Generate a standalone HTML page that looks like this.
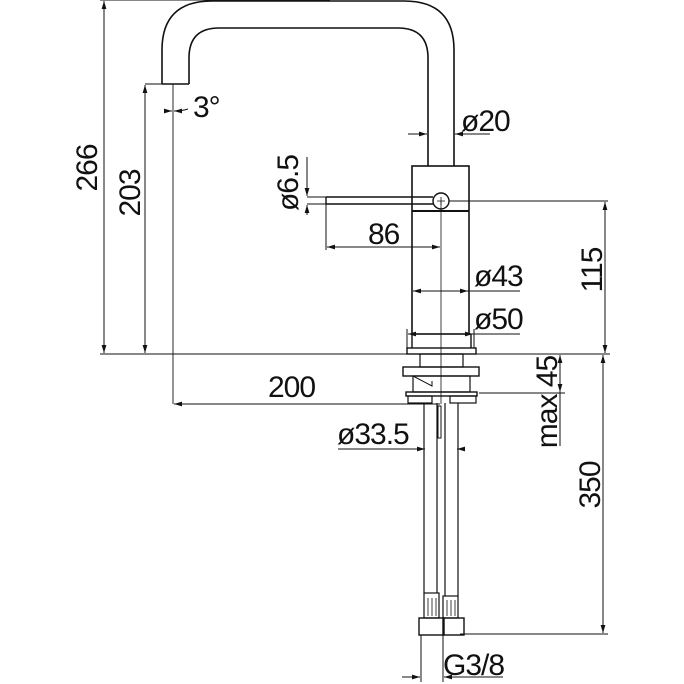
<!DOCTYPE html>
<html><head><style>
body{margin:0;background:#fff}
svg{display:block}
text{font-family:"Liberation Sans",sans-serif;font-size:30px;fill:#111;letter-spacing:-1px}
</style></head><body>
<svg width="684" height="684" viewBox="0 0 684 684" xmlns="http://www.w3.org/2000/svg">
<defs>
<marker id="a" viewBox="0 0 10 6" refX="10" refY="3" markerWidth="8" markerHeight="5" orient="auto-start-reverse"><path d="M0,0L10,3L0,6z" fill="#111"/></marker>
</defs>
<g stroke="#111" stroke-width="1" fill="none">
<path d="M162,84 L162,50 Q162,1 212,1 L404,1 Q454,1 454,50 L454,166" stroke-width="1.6"/>
<path d="M189,84 L189,58 Q189,28 219,28 L398,28 Q428,28 428,58 L428,166" stroke-width="1.6"/>
<path d="M162,84 L189,84" stroke-width="1.4"/>
<rect x="412" y="166" width="57" height="168" stroke-width="1.6"/>
<line x1="412" y1="211" x2="469" y2="211" stroke-width="2"/>
<path d="M326,197 L433,197 M326,204 L433,204 M326,197 L326,204" stroke-width="1.4"/>
<circle cx="441" cy="201" r="8" fill="#fff" stroke-width="1.4"/>
<path d="M437,201h8M441,197v8" stroke-width="0.8"/>
<path d="M412,334 L412,348 M471,334 L471,348" stroke-width="1.4"/>
<rect x="407" y="348" width="69" height="6" stroke-width="1.4"/>
<rect x="420" y="354" width="43" height="13" stroke-width="1.2"/>
<rect x="403" y="367" width="76" height="9" stroke-width="1.4"/>
<rect x="413" y="376" width="57" height="16" stroke-width="1.2"/>
<path d="M413,376 L432,386 L432,381" stroke-width="1"/>
<rect x="406" y="392" width="71" height="4" stroke-width="1.4"/>
<rect x="408" y="396" width="24" height="7" stroke-width="1.2"/>
<rect x="450" y="396" width="26" height="7" stroke-width="1.2"/>
<rect x="438" y="406" width="3" height="32" stroke-width="1"/>
<path d="M424,403V593M437,403V593M445,403V596M458,403V596" stroke-width="1.2"/>
<rect x="424" y="593" width="15" height="25" stroke-width="1.2"/>
<rect x="443" y="596" width="15" height="22" stroke-width="1.2"/>
<path d="M428,598v18M432,598v18M436,598v18M447,600v16M451,600v16M455,600v16" stroke-width="0.8"/>
<rect x="419" y="618" width="25" height="17" stroke-width="1.4"/>
<rect x="443" y="618" width="21" height="17" stroke-width="1.4"/>
<line x1="441" y1="201" x2="441" y2="404" stroke-width="0.8"/>
<line x1="173" y1="84" x2="173" y2="404" stroke-width="0.9"/>
<line x1="100" y1="354" x2="610" y2="354"/>
<line x1="100" y1="0" x2="330" y2="0"/>
<line x1="145" y1="84" x2="162" y2="84"/>
<line x1="449" y1="201" x2="608" y2="201"/>
<line x1="479" y1="393" x2="565" y2="393"/>
<line x1="460" y1="634" x2="608" y2="634"/>
<line x1="307" y1="197" x2="326" y2="197"/>
<line x1="307" y1="204" x2="326" y2="204"/>
<line x1="326" y1="204" x2="326" y2="250"/>
<line x1="104" y1="1" x2="104" y2="353" marker-start="url(#a)" marker-end="url(#a)"/>
<line x1="145" y1="85" x2="145" y2="353" marker-start="url(#a)" marker-end="url(#a)"/>
<line x1="605" y1="202" x2="605" y2="353" marker-start="url(#a)" marker-end="url(#a)"/>
<line x1="603" y1="355" x2="603" y2="633" marker-start="url(#a)" marker-end="url(#a)"/>
<line x1="560" y1="355" x2="560" y2="392" marker-start="url(#a)" marker-end="url(#a)"/>
<line x1="560" y1="392" x2="560" y2="446"/>
<line x1="327" y1="247" x2="440" y2="247" marker-start="url(#a)" marker-end="url(#a)"/>
<line x1="174" y1="404" x2="440" y2="404" marker-start="url(#a)"/>
<line x1="413" y1="291" x2="468" y2="291" marker-start="url(#a)" marker-end="url(#a)"/>
<line x1="468" y1="291" x2="520" y2="291"/>
<line x1="408" y1="334" x2="473" y2="334" marker-start="url(#a)" marker-end="url(#a)"/>
<line x1="473" y1="334" x2="520" y2="334"/>
<line x1="407" y1="329" x2="407" y2="348"/>
<line x1="474" y1="329" x2="474" y2="348"/>
<line x1="408" y1="134" x2="427" y2="134" marker-end="url(#a)"/>
<line x1="490" y1="134" x2="455" y2="134" marker-end="url(#a)"/>
<line x1="307" y1="157" x2="307" y2="196" marker-end="url(#a)"/>
<line x1="307" y1="215" x2="307" y2="205" marker-end="url(#a)"/>
<line x1="338" y1="449" x2="423" y2="449"/>
<line x1="464" y1="449" x2="457" y2="449" marker-end="url(#a)"/>
<line x1="418" y1="449" x2="425" y2="449" marker-end="url(#a)"/>
<path d="M424,403V452M458,403V452"/>
<path d="M421,635V682M443,635V682"/>
<line x1="402" y1="677" x2="420" y2="677" marker-end="url(#a)"/>
<line x1="503" y1="677" x2="444" y2="677" marker-end="url(#a)"/>
<line x1="164" y1="111" x2="172" y2="111" marker-end="url(#a)"/>
<path d="M188,109 Q182,111 174,111" marker-end="url(#a)"/>
</g>
<text x="193" y="117">3°</text>
<text x="461" y="131">ø20</text>
<text x="368" y="244">86</text>
<text x="474" y="286">ø43</text>
<text x="474" y="329">ø50</text>
<text x="268" y="397">200</text>
<text x="337" y="444">ø33.5</text>
<text x="443" y="675">G3/8</text>
<text transform="translate(97,168) rotate(-90)" text-anchor="middle">266</text>
<text transform="translate(140,193) rotate(-90)" text-anchor="middle">203</text>
<text transform="translate(298,183) rotate(-90)" text-anchor="middle">ø6.5</text>
<text transform="translate(602,270) rotate(-90)" text-anchor="middle">115</text>
<text transform="translate(600,485) rotate(-90)" text-anchor="middle">350</text>
<text transform="translate(557,402) rotate(-90)" text-anchor="middle">max 45</text>
</svg>
</body></html>
